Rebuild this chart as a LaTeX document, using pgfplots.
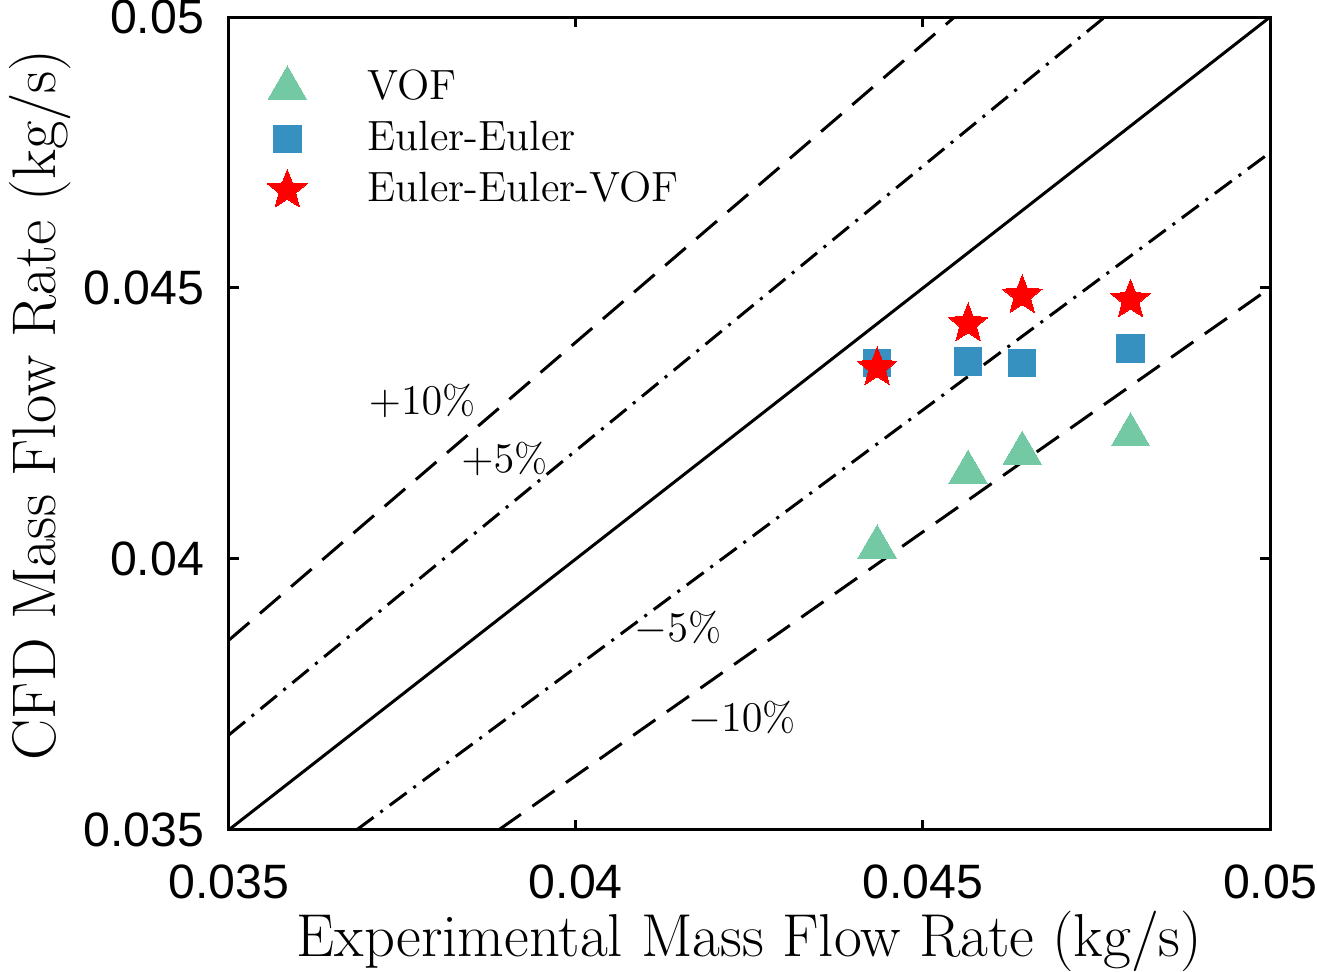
\documentclass[border=0pt]{standalone}
\usepackage{fontspec}
\usepackage{pgfplots}
\pgfplotsset{compat=1.18}
\newfontfamily\helv{Liberation Sans}
\definecolor{vofgreen}{HTML}{73C9A4}
\definecolor{eeblue}{HTML}{3690C0}
\definecolor{eered}{HTML}{FF0000}

% filled five-pointed star
\pgfdeclareplotmark{fstar}{%
  \pgfpathmoveto{\pgfpointpolar{90}{\pgfplotmarksize}}%
  \pgfpathlineto{\pgfpointpolar{126}{0.43\pgfplotmarksize}}%
  \pgfpathlineto{\pgfpointpolar{162}{\pgfplotmarksize}}%
  \pgfpathlineto{\pgfpointpolar{198}{0.43\pgfplotmarksize}}%
  \pgfpathlineto{\pgfpointpolar{234}{\pgfplotmarksize}}%
  \pgfpathlineto{\pgfpointpolar{270}{0.43\pgfplotmarksize}}%
  \pgfpathlineto{\pgfpointpolar{306}{\pgfplotmarksize}}%
  \pgfpathlineto{\pgfpointpolar{342}{0.43\pgfplotmarksize}}%
  \pgfpathlineto{\pgfpointpolar{18}{\pgfplotmarksize}}%
  \pgfpathlineto{\pgfpointpolar{54}{0.43\pgfplotmarksize}}%
  \pgfpathclose
  \pgfusepathqfillstroke}

\begin{document}
\begin{tikzpicture}
\begin{axis}[
  scale only axis, width=10.39cm, height=8.11cm,
  xmin=0.035, xmax=0.05, ymin=0.035, ymax=0.05,
  xtick={0.035,0.04,0.045,0.05}, ytick={0.035,0.04,0.045,0.05},
  xticklabels={0.035,0.04,0.045,0.05}, yticklabels={0.035,0.04,0.045,0.05},
  scaled ticks=false,
  tick align=inside, major tick length=0.1cm,
  xtick pos=both, ytick pos=both,
  axis line style={line width=0.85pt},
  every tick/.style={black,line width=0.85pt},
  ticklabel style={font=\helv\fontsize{13.7}{16}\selectfont, inner sep=0pt},
  xticklabel style={yshift=-0.34cm},
  yticklabel style={xshift=-0.24cm},
  xlabel={Experimental Mass Flow Rate (kg/s)},
  ylabel={CFD Mass Flow Rate (kg/s)},
  xlabel style={font=\fontsize{17.2}{21}\selectfont, inner sep=0pt,
    at={(axis description cs:0.5,0)}, anchor=base, yshift=-1.26cm},
  ylabel style={font=\fontsize{17.5}{21}\selectfont, inner xsep=0pt, inner ysep=0.09cm,
    at={(axis description cs:-0.2204,0.523)}, anchor=north},
  legend style={draw=none, fill=none, inner sep=0pt,
    at={(axis description cs:0,1)}, anchor=north west,
    xshift=0.37cm, yshift=-0.48cm, row sep=0.07cm,
    font=\fontsize{12}{14}\selectfont,
    nodes={inner sep=1pt, text height=8.5pt, text depth=2pt}},
  legend cell align=left,
  legend image code/.code={\draw[#1] plot coordinates {(0cm,0cm)}; \path (-0.2cm,0cm) (0.76cm,0cm);},
]
% parity line and +/- 5 %, 10 % bands
\addplot[forget plot, black, line width=0.85pt] coordinates {(0.035,0.035) (0.05,0.05)};
\addplot[forget plot, black, line width=0.85pt, dash pattern=on 0.27cm off 0.14cm] coordinates {(0.035,0.0385) (0.0454545,0.05)};
\addplot[forget plot, black, line width=0.85pt, dash pattern=on 0.27cm off 0.14cm] coordinates {(0.0388889,0.035) (0.05,0.045)};
\addplot[forget plot, black, line width=0.85pt, dash pattern=on 0.21cm off 0.085cm on 0.03cm off 0.085cm] coordinates {(0.035,0.03675) (0.0476190,0.05)};
\addplot[forget plot, black, line width=0.85pt, dash pattern=on 0.21cm off 0.085cm on 0.03cm off 0.085cm] coordinates {(0.0368421,0.035) (0.05,0.0475)};

\addplot[only marks, mark=triangle*, mark size=6.3pt, mark options={fill=vofgreen, draw=vofgreen, line width=0pt}]
  coordinates {(0.04434,0.04022) (0.04565,0.04160) (0.04643,0.04195) (0.04799,0.04229)};
\addplot[only marks, mark=square*, mark size=3.9pt, mark options={fill=eeblue, draw=eeblue, line width=0pt}]
  coordinates {(0.04434,0.04362) (0.04565,0.04364) (0.04643,0.04362) (0.04799,0.04388)};
\addplot[only marks, mark=fstar, mark size=5.9pt, mark options={fill=eered, draw=eered, line width=0pt}]
  coordinates {(0.04434,0.04353) (0.04565,0.04434) (0.04643,0.04486) (0.04799,0.04478)};
\legend{VOF, Euler-Euler, Euler-Euler-VOF}

\node[font=\fontsize{11.5}{14}\selectfont] at (axis cs:0.037786,0.042916) {$+10\%$};
\node[font=\fontsize{11.5}{14}\selectfont] at (axis cs:0.038970,0.041843) {$+5\%$};
\node[font=\fontsize{11.5}{14}\selectfont] at (axis cs:0.041468,0.038718) {$-5\%$};
\node[font=\fontsize{11.5}{14}\selectfont] at (axis cs:0.042392,0.037071) {$-10\%$};
\end{axis}
\end{tikzpicture}
\end{document}
